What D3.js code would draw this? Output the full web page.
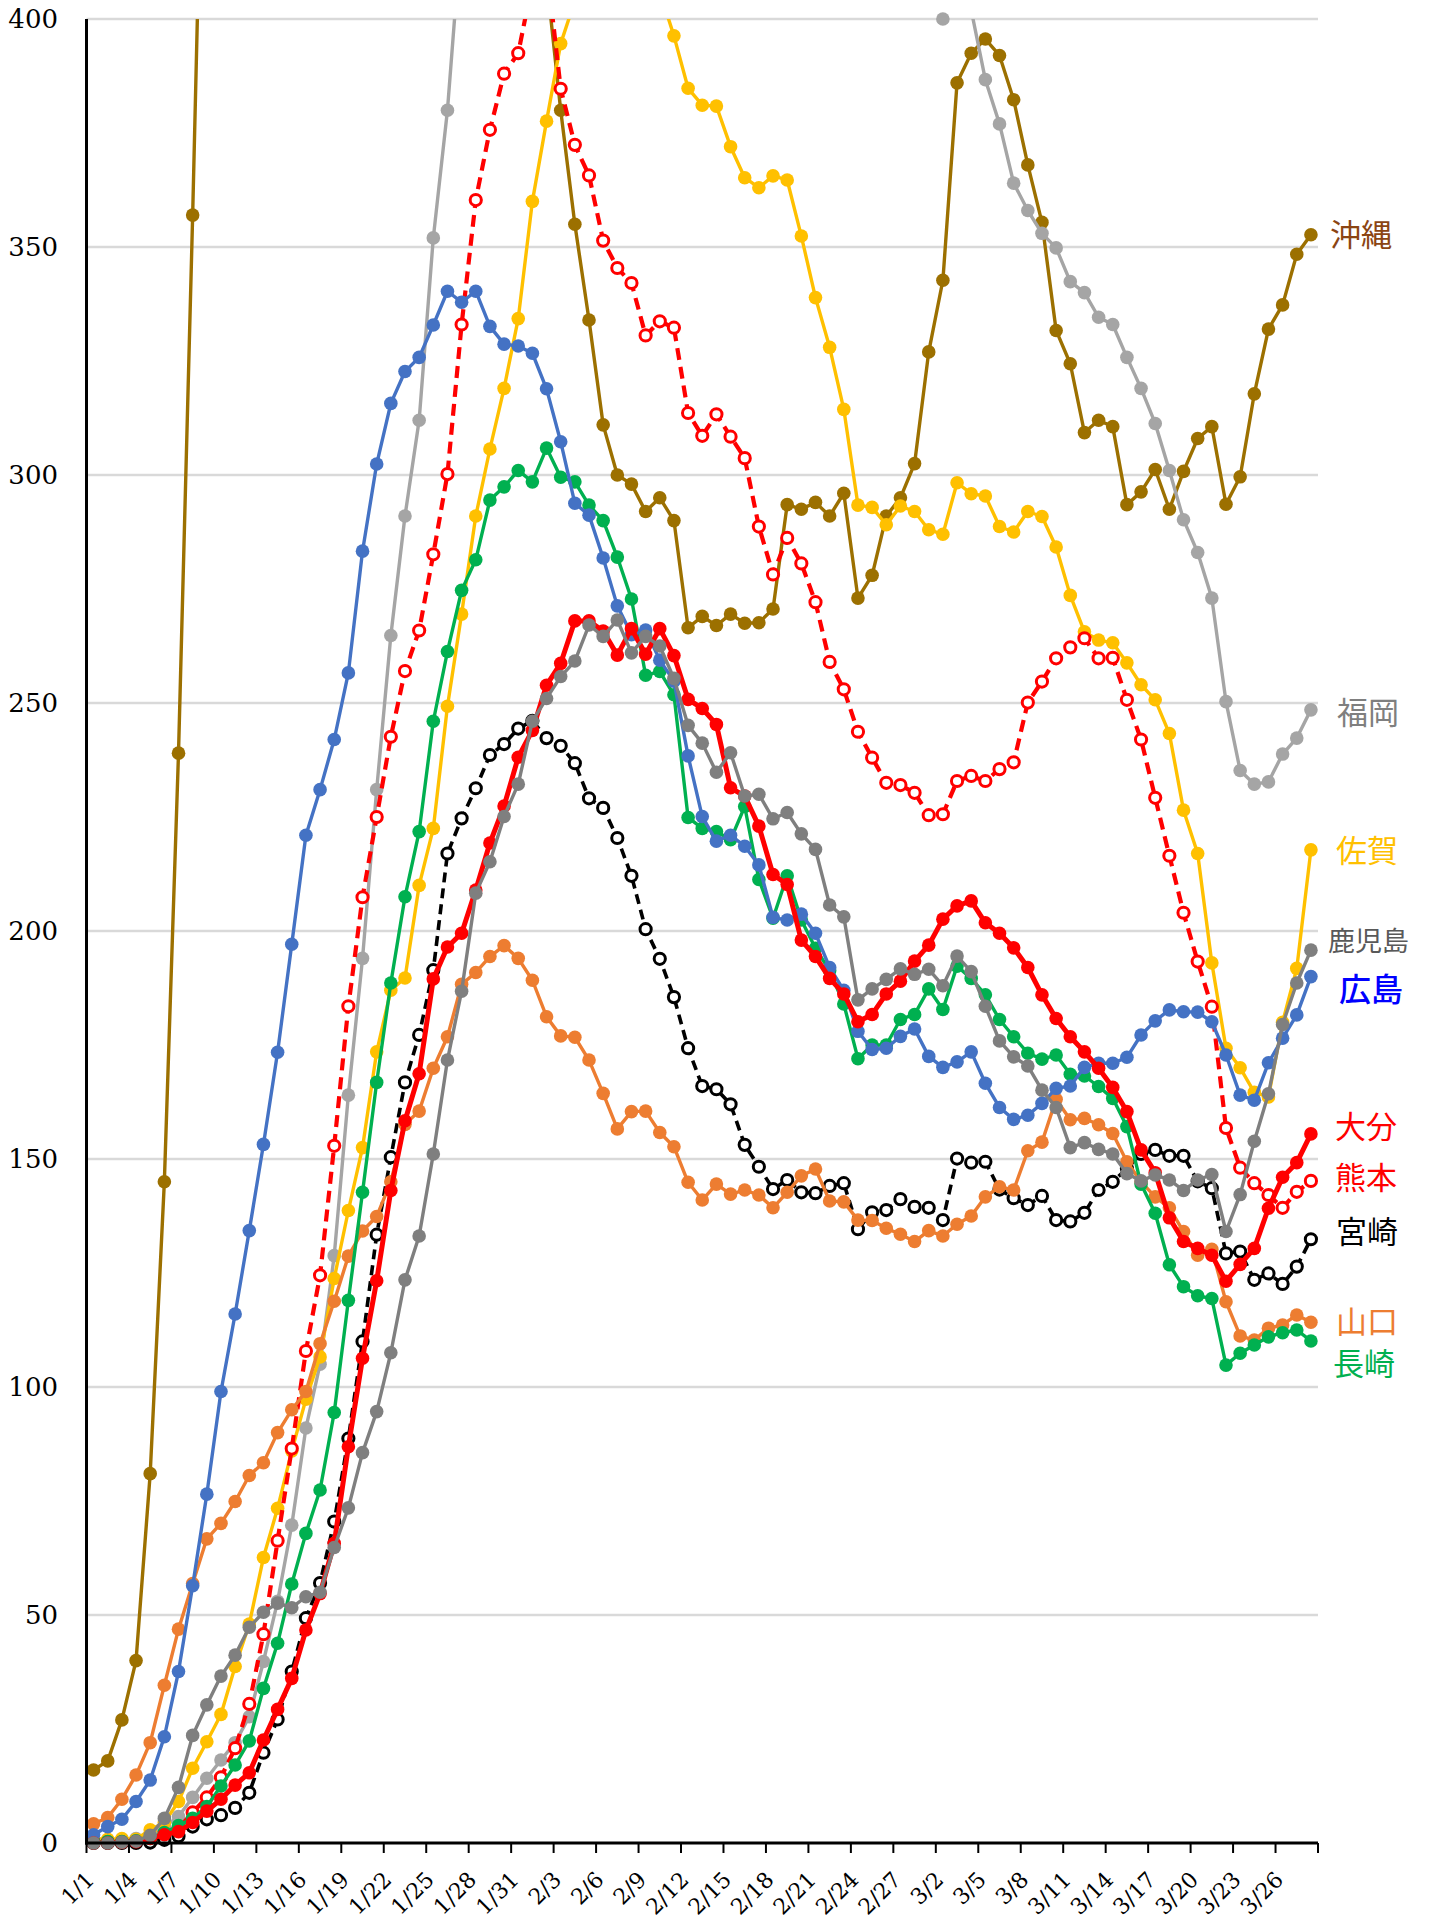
<!DOCTYPE html>
<html>
<head>
<meta charset="utf-8">
<script src="https://cdn.jsdelivr.net/npm/d3@7"></script>
<style>
body{margin:0;background:#fff;}
</style>
</head>
<body>
<div id="chart"></div>
<script>
// categories: one per day, 1/1 .. 3/28
var categories=['1/1','1/2','1/3','1/4','1/5','1/6','1/7','1/8','1/9','1/10','1/11','1/12','1/13','1/14','1/15','1/16','1/17','1/18','1/19','1/20','1/21','1/22','1/23','1/24','1/25','1/26','1/27','1/28','1/29','1/30','1/31',
    '2/1','2/2','2/3','2/4','2/5','2/6','2/7','2/8','2/9','2/10','2/11','2/12','2/13','2/14','2/15','2/16','2/17','2/18','2/19','2/20','2/21','2/22','2/23','2/24','2/25','2/26','2/27','2/28',
    '3/1','3/2','3/3','3/4','3/5','3/6','3/7','3/8','3/9','3/10','3/11','3/12','3/13','3/14','3/15','3/16','3/17','3/18','3/19','3/20','3/21','3/22','3/23','3/24','3/25','3/26','3/27','3/28'];
var yTicks=[0,50,100,150,200,250,300,350,400];

var okinawa=[16,18,27,40,81,145,239,357,487,590,660,700,720,735,740,735,720,705,690,670,650,630,610,590,575,560,535,510,487,465,447,428,409,
    380,355,334,311,300,298,292,295,290,266.5,269,267,269.5,267.5,267.6,270.6,293.5,292.5,294,291,296,273,278,291,295,302.5,327,342.7,
    386,392.5,395.6,392,382.3,368,355.4,331.7,324.4,309.3,312,310.6,293.5,296.3,301.2,292.5,300.8,308,310.6,293.6,299.6,317.8,332,337.3,348.4,352.7];
var fukuoka=[0.5,0.5,0.8,1,2,3.6,5.8,10,14.2,18.2,22,27.7,39.8,53,69.7,91,105,128.8,164,194,231,264.8,291,312,352,380,
    420,450,472,490,503,512,520,525,528,530,527,522,515,508,500,492,485,478,470,462,455,450,447,445,443,440,437,433,428,423,418,414,410,405,
    400,410,402,386.7,377,364,358,353,349.8,342.4,340,334.6,333,325.8,319,311.3,301,290.2,283,273,250.3,235.2,232.2,232.7,238.8,242.3,248.5];
var saga=[1,0.8,1,0.8,2.9,4.5,9.1,16.4,22.2,28.2,38.7,48,62.6,73.4,86,97.3,106.6,123.8,138.7,152.5,173.5,187,189.7,210,
    222.5,249.3,269.5,291,305.7,319,334.3,360,377.6,394.6,404,412,418,418,414,410,406,
    396.3,384.8,381.1,380.9,372,365.2,363,365.6,364.7,352.4,338.9,328,314.4,293.4,292.9,289.1,293.2,292,288,287,
    298.3,295.9,295.4,288.7,287.5,292,290.9,284.2,273.6,265.6,263.8,263.2,258.8,254,250.7,243.3,226.5,217,193,174.3,
    170,164.6,163.6,180,191.8,217.8];
var kagoshima=[0,0,0.2,0.4,1.7,5.4,12.2,23.6,30.3,36.6,41.2,47.3,50.6,52.6,51.6,54,55,64.8,73.5,85.6,94.6,107.5,123.5,133.1,151.1,171.7,186.8,208.3,
    215.2,225.1,232.2,246,251,255.8,259.2,267.1,264.6,268.2,261,264.6,262.5,255.4,245.1,241.2,234.8,239.1,229.6,230,224.6,226,221.3,217.9,205.7,203.1,184.9,187.3,189.4,191.7,
    190.5,191.6,188,194.5,191.1,183.5,175.9,172.4,170.4,165.1,161.3,152.5,153.6,152.1,151.1,146.8,145.2,146.5,145.4,143.1,145.4,146.6,134.1,142.2,153.9,164.3,179.5,188.6,195.8];
var hiroshima=[1.8,3.6,5.2,9.1,13.8,23.3,37.6,56.4,76.5,99,
    116,134.3,153.2,173.4,197.1,221,231,242,256.6,283.3,302.4,315.7,322.7,325.8,332.9,340.3,337.9,340.3,
    332.6,328.7,328.3,326.7,318.9,307.3,293.8,291.2,281.8,271.3,265,266,259.4,254.8,238.4,225.1,219.7,221,218.6,214.5,203,202.4,203.7,199.5,
    192,187,178,174,
    174.3,176.9,178.5,172.5,170.1,171.3,173.5,166.6,161.3,158.7,159.6,162.2,165.5,166,170.1,171,171,172.3,177.2,180.3,182.7,182.3,182.2,180.1,172.8,164,162.9,171.1,176.5,181.6,190];
var oita=[0,0,0.1,0.3,1,1.8,2.5,4.5,7,9.6,12.7,15.4,22.6,29.3,36.1,46.7,54.7,65.7,86.9,
    106.3,123.3,143.1,158.4,168.7,189.5,196.5,199.5,209,
    219.3,227.4,238.1,244,253.9,258.7,268,268,265.8,260.5,266.3,260.7,266.3,260.4,250.8,248.8,245.3,231.4,229.6,223,212.4,210.2,198,194.4,189.6,186.2,180.1,181.7,186.2,
    189,193.4,196.9,202.6,205.5,206.6,201.8,199.5,196.3,192,186,180.8,176.8,173.5,169.9,165.7,160.4,152,147,137.1,131.9,130.4,128.9,123.2,126.9,130.4,139.2,146,149.2,155.5];
var kumamoto=[0.2,0.2,0.2,0.3,0.3,2,3.2,6.7,10,14.4,20.8,30.5,45.8,66.3,86.5,
    107.9,124.5,152.9,183.5,207.4,225,242.6,257,265.9,282.6,300.2,333,360.3,375.7,388,392.5,408,412,
    384.7,372.4,365.7,351.4,345.4,342.1,330.6,333.7,332.3,313.6,308.6,313.3,308.4,303.7,288.7,278.2,286.2,280.6,272.1,
    259,253,243.7,238,
    232.5,232,230.3,225.4,225.6,232.9,234,232.9,235.5,237,250.1,254.7,259.8,262.2,264.2,259.8,259.9,250.7,242,229.2,216.5,204,193.3,
    183.4,156.8,148.1,144.7,142.1,139.3,142.8,145.2];
var miyazaki=[0,0,0,0,0.1,0.7,1.5,3.6,5.2,6.1,7.7,11,19.8,27.1,37.6,49.3,57,70.5,88.7,
    110,133.4,150.4,166.8,177.2,191.4,
    217,224.7,231.3,238.6,241,244.4,246.1,242.3,240.6,236.8,229.1,227,220.4,212.1,200.4,193.9,185.5,
    174.3,166,165.3,162,153.1,148.3,143.4,145.4,142.7,142.5,144.1,144.7,134.6,138.3,
    138.8,141.2,139.5,139.3,136.6,150.1,149.2,149.4,143.3,141.4,139.9,141.9,136.6,136.3,138.2,143.2,145,147.9,151.1,152,150.7,150.7,145.1,143.6,129.3,129.7,123.5,124.9,122.6,126.4,132.4];
var yamaguchi=[4.2,5.6,9.6,14.9,22,34.6,46.9,56.9,66.7,70.1,74.9,80.6,83.4,90,95,
    99,109.5,118.8,128.7,134.2,137.4,145,157.6,160.5,169.9,176.8,188.3,190.9,194.4,196.8,194,189.2,
    181.2,177,176.7,171.7,164.4,156.6,160.4,160.5,155.8,152.7,144.9,141,144.5,142.3,143.2,142.1,139.3,142.7,146.3,147.8,140.8,140.6,136.6,136.5,134.8,133.5,
    131.9,134.3,133.1,135.7,137.5,141.7,143.9,143.2,151.8,153.7,163.1,158.6,158.9,157.5,155.6,149.4,145,141.7,139.3,134.1,128.9,130.2,118.7,111.2,110.3,112.9,113.6,115.8,114.2];
var nagasaki=[0.3,0.3,0.3,0.5,1,2.3,3.8,5.4,8,12.5,17.1,22.4,33.9,43.8,56.8,67.9,77.4,94.4,
    119,142.7,166.8,188.6,207.5,221.8,246,261.3,274.7,281.4,
    294.5,297.4,301,298.5,305.9,299.5,298.5,293.4,290,282,272.8,256.1,256.9,251.8,224.9,222.5,221.8,220,227.3,211.3,202.8,212.1,202.4,196.2,191.3,
    184,172,175,
    175,180.6,181.7,187.3,182.8,192.3,189.6,186,180.6,176.8,173.2,171.9,172.8,168.6,168.2,165.9,163.3,157.1,144.5,138.1,126.8,122,120,119.4,104.8,107.4,109.2,111,111.9,112.5,110.1];

(function lineChart(){
    'use strict';
    var width=1429,
        height=1919,
        plot={left:86.5, right:1318, top:19, bottom:1843};

    // drawing order = bottom to top
    var series=[
        {name:'沖縄', values:okinawa, color:'#9C7000', lw:3.4, label:{color:'#8B4513', x:1330, y:235, size:31}},
        {name:'福岡', values:fukuoka, color:'#A5A5A5', lw:3.4, label:{color:'#7F7F7F', x:1337, y:713, size:31}},
        {name:'佐賀', values:saga, color:'#FFC000', lw:3.4, label:{color:'#FFC000', x:1336, y:851, size:31}},
        {name:'熊本', values:kumamoto, color:'#FF0000', lw:4.2, dash:'12,7', open:true, label:{color:'#FF0000', x:1335, y:1178, size:31}},
        {name:'宮崎', values:miyazaki, color:'#000000', lw:3.6, dash:'10,6', open:true, label:{color:'#000000', x:1336, y:1232, size:31}},
        {name:'山口', values:yamaguchi, color:'#ED7D31', lw:3.4, label:{color:'#ED7D31', x:1336, y:1322, size:31}},
        {name:'長崎', values:nagasaki, color:'#00B050', lw:3.4, label:{color:'#00B050', x:1333, y:1364, size:31}},
        {name:'広島', values:hiroshima, color:'#4472C4', lw:3.4, label:{color:'#0000FF', x:1339, y:989, size:32, weight:500}},
        {name:'大分', values:oita, color:'#FF0000', lw:5, label:{color:'#FF0000', x:1335, y:1127, size:31}},
        {name:'鹿児島', values:kagoshima, color:'#7F7F7F', lw:3.4, label:{color:'#595959', x:1328, y:941, size:27}}
    ];

    var svg=d3.select('#chart').append('svg')
        .attr('width',width)
        .attr('height',height)
        .style('background','#fff');

    var x=d3.scaleBand().domain(categories).range([plot.left,plot.right]);
    var y=d3.scaleLinear().domain([0,400]).range([plot.bottom,plot.top]);
    var cx=function(i){return x(categories[i])+x.bandwidth()/2;};

    // gridlines
    svg.append('g').attr('class','grid')
        .selectAll('line').data(yTicks.filter(function(d){return d>0;}))
        .enter().append('line')
        .attr('x1',plot.left).attr('x2',plot.right)
        .attr('y1',function(d){return y(d);}).attr('y2',function(d){return y(d);})
        .attr('stroke','#D9D9D9').attr('stroke-width',2.5);

    // y labels
    svg.append('g').selectAll('text').data(yTicks)
        .enter().append('text')
        .attr('x',58).attr('y',function(d){return y(d);})
        .attr('dy','0.36em')
        .attr('text-anchor','end')
        .style('font-family','"DejaVu Serif", serif')
        .style('font-size','26px')
        .text(function(d){return d;});

    svg.append('clipPath').attr('id','plotClip')
        .append('rect')
        .attr('x',plot.left).attr('y',plot.top)
        .attr('width',plot.right-plot.left+20)
        .attr('height',plot.bottom-plot.top);

    var line=d3.line()
        .x(function(d,i){return cx(i);})
        .y(function(d){return y(d);});

    var inner=svg.append('g').attr('class','innercontainer');
    series.forEach(function(s){
        var g=inner.append('g').attr('class','series');
        g.append('path')
            .datum(s.values)
            .attr('clip-path','url(#plotClip)')
            .attr('fill','none')
            .attr('stroke',s.color)
            .attr('stroke-width',s.lw)
            .attr('stroke-linejoin','round')
            .attr('stroke-dasharray',s.dash||null)
            .attr('d',line);
        var pts=s.values.map(function(v,i){return {v:v,i:i};})
            .filter(function(p){return p.v<=400.5;});
        g.selectAll('circle').data(pts)
            .enter().append('circle')
            .attr('cx',function(p){return cx(p.i);})
            .attr('cy',function(p){return y(p.v);})
            .attr('r',s.open?5.6:6.8)
            .attr('fill',s.open?'#fff':s.color)
            .attr('stroke',s.open?s.color:'none')
            .attr('stroke-width',s.open?3:0);
        g.append('text')
            .attr('x',s.label.x).attr('y',s.label.y)
            .attr('dy','0.36em')
            .attr('fill',s.label.color)
            .style('font-family','"Noto Sans CJK JP", sans-serif')
            .style('font-size',s.label.size+'px')
            .style('font-weight',s.label.weight||400)
            .text(s.name);
    });

    // axes
    svg.append('line')
        .attr('x1',plot.left).attr('x2',plot.left)
        .attr('y1',plot.top).attr('y2',plot.bottom+1.5)
        .attr('stroke','#000').attr('stroke-width',3);
    svg.append('line')
        .attr('x1',plot.left-1.5).attr('x2',plot.right)
        .attr('y1',plot.bottom).attr('y2',plot.bottom)
        .attr('stroke','#000').attr('stroke-width',3);

    var tickIdx=d3.range(0,categories.length+1,3);
    svg.append('g').selectAll('line').data(tickIdx)
        .enter().append('line')
        .attr('x1',function(k){return plot.left+k*x.bandwidth();})
        .attr('x2',function(k){return plot.left+k*x.bandwidth();})
        .attr('y1',plot.bottom).attr('y2',plot.bottom+10)
        .attr('stroke','#000').attr('stroke-width',2);

    var xLabels=categories.filter(function(d,i){return i%3===0;});
    svg.append('g').selectAll('text').data(xLabels)
        .enter().append('text')
        .attr('transform',function(d){
            return 'translate('+(x(d)+x.bandwidth()/2+2)+','+1881+') rotate(-45)';
        })
        .attr('text-anchor','end')
        .style('font-family','"DejaVu Serif", serif')
        .style('font-size','22px')
        .text(function(d){return d;});
})();
</script>
</body>
</html>
